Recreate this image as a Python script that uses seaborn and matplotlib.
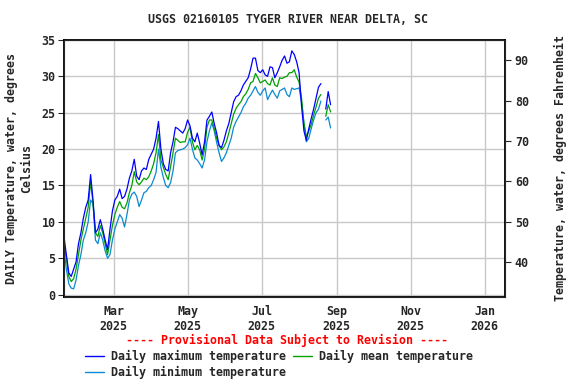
import numpy as np
import pandas as pd
import seaborn as sns
import matplotlib
matplotlib.use('Agg')
import matplotlib.pyplot as plt
import matplotlib.dates as mdates
from matplotlib.lines import Line2D

# daily values, every 2nd day from 2025-01-19
start = '2025-01-19'
t_max = [8.0, 5.5, 3.0, 2.5, 3.5, 4.5, 7.0, 8.5, 10.5, 12.0, 13.0, 16.5, 13.0, 8.5, 9.0, 10.3,
         9.0, 7.5, 6.2, 9.0, 11.5, 13.0, 13.5, 14.5, 13.2, 13.5, 14.5, 16.0, 17.0, 18.6, 16.3,
         15.8, 17.0, 17.4, 17.2, 18.6, 19.3, 20.0, 21.5, 23.8, 20.0, 18.0, 17.2, 17.0, 19.5,
         21.0, 23.0, 22.8, 22.5, 22.2, 22.8, 24.0, 23.2, 21.5, 21.0, 22.2, 20.8, 19.2, 21.0,
         24.0, 24.5, 25.1, 23.5, 22.2, 20.5, 20.2, 21.2, 22.5, 23.5, 25.0, 26.5, 27.2, 27.4,
         28.0, 28.8, 29.3, 29.8, 31.0, 32.5, 32.5, 30.8, 30.5, 30.9, 30.2, 30.0, 31.3, 31.2,
         29.8, 30.5, 31.3, 32.2, 32.8, 31.8, 32.0, 33.5, 33.0, 32.0, 30.5, 26.0, 22.5, 21.2,
         22.8, 24.2, 25.5, 27.0, 28.5, 29.0, np.nan, 25.5, 27.9, 26.1]
t_mean = [7.0, 5.0, 2.5, 1.8, 2.2, 3.5, 5.5, 7.5, 9.0, 10.5, 12.0, 15.5, 12.5, 8.5, 8.0, 9.5,
          8.5, 7.0, 5.5, 7.5, 9.5, 11.0, 12.0, 12.8, 12.0, 11.8, 12.6, 14.0, 15.0, 16.9, 15.5,
          15.1, 15.5, 16.0, 15.8, 16.2, 17.0, 18.0, 19.5, 22.0, 18.5, 17.5, 16.5, 15.8, 17.6,
          19.5, 21.5, 21.2, 20.9, 21.0, 21.0, 22.3, 23.0, 21.0, 19.9, 20.5, 19.9, 18.5, 20.0,
          23.0, 24.0, 24.0, 22.8, 21.5, 20.5, 19.9, 20.3, 21.0, 22.2, 23.5, 24.8, 25.6, 26.1,
          26.5, 27.2, 27.6, 28.2, 29.1, 29.3, 30.4, 29.8, 29.1, 29.3, 29.5, 29.0, 28.8, 29.8,
          28.8, 28.6, 29.8, 29.7, 29.9, 30.0, 30.5, 30.5, 30.9, 29.9, 29.2, 27.0, 23.6, 21.7,
          22.5, 23.4, 24.7, 25.8, 27.0, 27.5, np.nan, 24.5, 26.1, 25.1]
t_min = [6.2, 3.5, 1.5, 0.9, 0.8, 2.0, 4.0, 5.5, 7.5, 8.5, 10.0, 13.0, 12.5, 7.5, 7.0, 8.5,
         7.5, 6.0, 5.0, 5.5, 7.5, 9.0, 10.0, 11.0, 10.5, 9.3, 11.0, 13.0, 13.8, 14.1, 13.5,
         12.1, 13.0, 14.0, 14.2, 14.7, 15.0, 15.8, 16.8, 20.0, 17.5, 16.1, 15.0, 14.7, 15.4,
         17.0, 19.5, 19.8, 19.9, 20.0, 20.2, 20.6, 21.5, 20.0, 18.8, 18.5, 18.0, 17.4, 18.5,
         21.0, 22.5, 23.6, 22.5, 20.9, 19.5, 18.3, 18.8, 19.5, 20.5, 21.5, 23.0, 23.8, 24.4,
         25.0, 25.8, 26.3, 27.0, 27.4, 28.0, 28.6, 27.8, 27.4, 28.0, 28.4, 26.8, 27.5, 28.1,
         27.5, 27.0, 28.0, 28.2, 28.4, 27.5, 27.2, 28.4, 28.2, 28.3, 28.4, 26.5, 23.5, 21.0,
         21.5, 22.8, 24.0, 25.0, 25.5, 26.6, np.nan, 24.0, 24.4, 22.9]

names = ['Daily maximum temperature', 'Daily mean temperature', 'Daily minimum temperature']
colors = ['#0000ff', '#00a000', '#0a8ad0']

dates = pd.date_range(start, periods=len(t_max), freq='2D')
frames = []
for name, vals in zip(names, [t_max, t_mean, t_min]):
    d = pd.DataFrame({'date': dates, 'temp': vals, 'series': name})
    d['segment'] = d['temp'].isna().cumsum()
    frames.append(d.dropna())
df = pd.concat(frames, ignore_index=True)

sns.set_style('white')
plt.rcParams['font.family'] = ['DejaVu Sans Mono']
plt.rcParams['font.weight'] = 'bold'
fs = 8.4

fig = plt.figure(figsize=(5.76, 3.84), dpi=100)
ax = fig.add_axes([0.111, 0.227, 0.766, 0.669])

sns.lineplot(data=df, x='date', y='temp', hue='series', units='segment', estimator=None,
             palette=dict(zip(names, colors)), hue_order=[names[2], names[1], names[0]],
             linewidth=0.9, legend=False, ax=ax)

ax.set_xlim(pd.Timestamp('2025-01-19'), pd.Timestamp('2026-01-18'))
ax.set_ylim(-0.3, 35)
ax.set_yticks(range(0, 36, 5))
ax.xaxis.set_major_locator(mdates.MonthLocator(bymonth=[1, 3, 5, 7, 9, 11]))
ax.xaxis.set_major_formatter(mdates.DateFormatter('%b\n%Y'))
ax.grid(True, color='#c8c8c8', linewidth=1)
ax.set_xlabel('')
ax.set_ylabel('DAILY Temperature, water, degrees\nCelsius', fontsize=fs, fontweight='bold',
              labelpad=6)
ax.tick_params(labelsize=fs, length=4, direction='out', left=True, bottom=False, pad=2)
for s in ax.spines.values():
    s.set_color('black')
    s.set_linewidth(1.3)

ax2 = ax.twinx()
ax2.set_ylim(-0.3 * 9 / 5 + 32, 35 * 9 / 5 + 32)
ax2.set_yticks(range(40, 91, 10))
ax2.tick_params(labelsize=fs, length=4, direction='out', right=True, pad=3)
ax2.set_ylabel('Temperature, water, degrees Fahrenheit', fontsize=fs, fontweight='bold',
               labelpad=18)
ax2.grid(False)

fig.text(0.5, 0.948, 'USGS 02160105 TYGER RIVER NEAR DELTA, SC', ha='center', va='center',
         fontsize=fs, fontweight='bold')
fig.text(0.498, 0.113, '---- Provisional Data Subject to Revision ----', ha='center',
         va='center', color='red', fontsize=fs, fontweight='bold')

handles = [Line2D([], [], color=colors[0], lw=1), Line2D([], [], color=colors[2], lw=1),
           Line2D([], [], color=colors[1], lw=1)]
labels = [names[0], names[2], names[1]]
fig.legend(handles, labels, loc='upper left', bbox_to_anchor=(0.148, 0.088), ncol=2,
           frameon=False, fontsize=fs, handlelength=1.6, handletextpad=0.6,
           columnspacing=0.6, labelspacing=0.25, borderaxespad=0, borderpad=0)

fig.savefig('out.png', dpi=100)
